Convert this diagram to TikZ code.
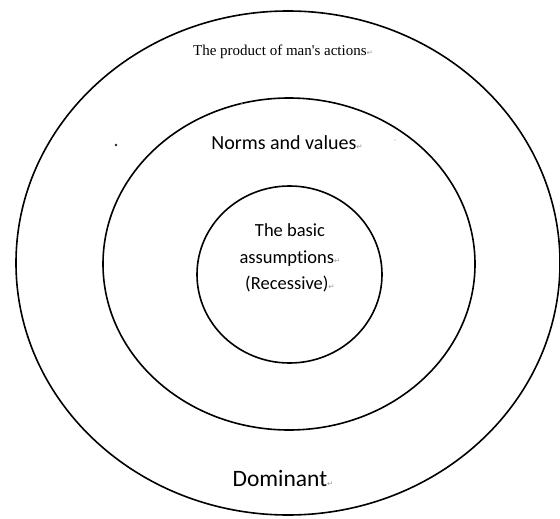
\documentclass[tikz,border=0pt]{standalone}
\usepackage{fontspec}
\setmainfont{Liberation Serif}
\newfontfamily\calfont[Ligatures={NoCommon}]{Carlito}
\newfontfamily\symfont{DejaVu Sans}
\usepackage{xcolor}
\newcommand\parmk{{\symfont\fontsize{7.5}{7.5}\selectfont\textcolor{gray!80}{↵}}}
\begin{document}
\begin{tikzpicture}[x=1pt,y=-1pt,
  ring/.style={draw=black,line width=1.6pt},
  lbl/.style={inner sep=0pt,align=center,text=black}]
\useasboundingbox (0,0) rectangle (560,519);
\draw[ring] (288,263) ellipse [x radius=272, y radius=252];
\draw[ring] (289,264) ellipse [x radius=186, y radius=166];
\draw[ring] (289.5,274.5) ellipse [x radius=92.5, y radius=88.5];
\node[lbl,font=\fontsize{15}{15}\selectfont] (outer) at (283,52) {The product of man\textquotesingle s actions\parmk};
\node[lbl,font=\calfont\fontsize{20}{20}\selectfont] (middle) at (287,143) {Norms and values\parmk};
\node[lbl,font=\calfont\fontsize{18.5}{26.5}\selectfont] (inner) at (290,258) {The basic\\assumptions\parmk\\(Recessive)\parmk};
\node[lbl,font=\calfont\fontsize{23.5}{23.5}\selectfont] (dom) at (283,478) {Dominant\parmk};
\fill[black!85] (116,145) circle (1.3);
\fill[black!30] (242,104) circle (0.9);
\fill[black!20] (395,140) circle (0.9);
\end{tikzpicture}
\end{document}
